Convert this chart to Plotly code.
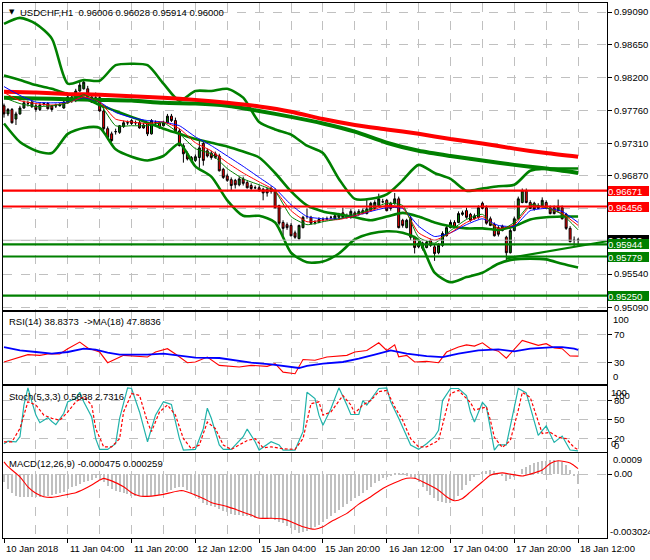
import plotly.graph_objects as go

FONT = "Liberation Sans, Arial, sans-serif"

# ---------------- data ----------------
bars = list(range(145))
time_label_bars = [0, 16, 32, 48, 64, 80, 96, 112, 128, 144]
time_labels = ["10 Jan 2018", "11 Jan 04:00", "11 Jan 20:00", "12 Jan 12:00", "15 Jan 04:00",
               "15 Jan 20:00", "16 Jan 12:00", "17 Jan 04:00", "17 Jan 20:00", "18 Jan 12:00"]

open_ = [0.9782, 0.9771, 0.9777, 0.9764, 0.9771, 0.9779, 0.9785, 0.9781, 0.9782, 0.9777,
         0.9785, 0.9785, 0.9782, 0.9782, 0.9782, 0.9779, 0.9786, 0.9794, 0.9789, 0.9802,
         0.9805, 0.9805, 0.9794, 0.9789, 0.9793, 0.9775, 0.9751, 0.9744, 0.9747, 0.9746,
         0.9754, 0.9759, 0.9762, 0.9759, 0.9759, 0.9756, 0.9758, 0.9744, 0.9759, 0.9759,
         0.9755, 0.9759, 0.9768, 0.9762, 0.9748, 0.9728, 0.9717, 0.9712, 0.9708, 0.9712,
         0.9731, 0.9721, 0.9718, 0.9717, 0.9714, 0.9696, 0.9687, 0.9682, 0.9681, 0.9675,
         0.9683, 0.9678, 0.9674, 0.9671, 0.9671, 0.9669, 0.9669, 0.9666, 0.9667, 0.9647,
         0.9624, 0.9621, 0.9620, 0.9610, 0.9602, 0.9617, 0.9632, 0.9631, 0.9624, 0.9624,
         0.9628, 0.9629, 0.9631, 0.9629, 0.9631, 0.9637, 0.9631, 0.9631, 0.9637, 0.9635,
         0.9636, 0.9636, 0.9640, 0.9643, 0.9647, 0.9652, 0.9654, 0.9650, 0.9650, 0.9656,
         0.9627, 0.9617, 0.9629, 0.9604, 0.9591, 0.9596, 0.9590, 0.9600, 0.9591, 0.9583,
         0.9593, 0.9606, 0.9617, 0.9624, 0.9624, 0.9635, 0.9640, 0.9635, 0.9629, 0.9631,
         0.9650, 0.9644, 0.9629, 0.9621, 0.9617, 0.9613, 0.9604, 0.9583, 0.9613, 0.9629,
         0.9651, 0.9667, 0.9651, 0.9650, 0.9647, 0.9646, 0.9651, 0.9644, 0.9644, 0.9640,
         0.9644, 0.9635, 0.9616, 0.9600, 0.96006]
high = [0.9785, 0.9779, 0.9779, 0.9774, 0.9782, 0.9789, 0.9789, 0.9793, 0.9785, 0.9786,
        0.9787, 0.9787, 0.9783, 0.9785, 0.9786, 0.9789, 0.9797, 0.9797, 0.9805, 0.9816,
        0.9817, 0.9809, 0.9797, 0.9800, 0.9796, 0.9778, 0.9754, 0.9747, 0.9751, 0.9756,
        0.9762, 0.9762, 0.9764, 0.9762, 0.9762, 0.9759, 0.9760, 0.9764, 0.9762, 0.9760,
        0.9762, 0.9771, 0.9771, 0.9766, 0.9751, 0.9731, 0.9720, 0.9714, 0.9716, 0.9736,
        0.9733, 0.9724, 0.9721, 0.9720, 0.9717, 0.9698, 0.9690, 0.9685, 0.9683, 0.9686,
        0.9686, 0.9681, 0.9677, 0.9674, 0.9674, 0.9671, 0.9671, 0.9673, 0.9670, 0.9648,
        0.9627, 0.9624, 0.9623, 0.9613, 0.9621, 0.9633, 0.9643, 0.9633, 0.9627, 0.9631,
        0.9631, 0.9632, 0.9633, 0.9636, 0.9637, 0.9644, 0.9636, 0.9642, 0.9640, 0.9642,
        0.9643, 0.9655, 0.9652, 0.9654, 0.9663, 0.9656, 0.9656, 0.9652, 0.9664, 0.9659,
        0.9629, 0.9629, 0.9633, 0.9606, 0.9600, 0.9598, 0.9600, 0.9602, 0.9594, 0.9596,
        0.9612, 0.9620, 0.9627, 0.9627, 0.9639, 0.9640, 0.9644, 0.9637, 0.9636, 0.9647,
        0.9652, 0.9647, 0.9632, 0.9624, 0.9620, 0.9621, 0.9606, 0.9616, 0.9632, 0.9659,
        0.9670, 0.9670, 0.9654, 0.9652, 0.9650, 0.9658, 0.9654, 0.9647, 0.9647, 0.9655,
        0.9647, 0.9637, 0.9619, 0.9605, 0.96028]
low = [0.9766, 0.9768, 0.9758, 0.9756, 0.9770, 0.9778, 0.9781, 0.9779, 0.9774, 0.9775,
       0.9782, 0.9777, 0.9774, 0.9779, 0.9781, 0.9778, 0.9785, 0.9786, 0.9787, 0.9801,
       0.9804, 0.9793, 0.9786, 0.9787, 0.9774, 0.9746, 0.9736, 0.9733, 0.9743, 0.9744,
       0.9752, 0.9756, 0.9756, 0.9756, 0.9751, 0.9751, 0.9741, 0.9743, 0.9756, 0.9751,
       0.9754, 0.9758, 0.9760, 0.9747, 0.9727, 0.9705, 0.9708, 0.9705, 0.9706, 0.9698,
       0.9701, 0.9712, 0.9709, 0.9710, 0.9693, 0.9683, 0.9679, 0.9667, 0.9670, 0.9673,
       0.9674, 0.9670, 0.9667, 0.9669, 0.9666, 0.9654, 0.9659, 0.9663, 0.9643, 0.9620,
       0.9606, 0.9614, 0.9605, 0.9602, 0.9601, 0.9616, 0.9629, 0.9621, 0.9621, 0.9623,
       0.9625, 0.9627, 0.9628, 0.9628, 0.9629, 0.9629, 0.9629, 0.9629, 0.9632, 0.9633,
       0.9635, 0.9635, 0.9639, 0.9642, 0.9646, 0.9650, 0.9639, 0.9640, 0.9648, 0.9616,
       0.9617, 0.9616, 0.9600, 0.9582, 0.9589, 0.9586, 0.9589, 0.9591, 0.9572, 0.9581,
       0.9591, 0.9605, 0.9616, 0.9616, 0.9623, 0.9633, 0.9629, 0.9625, 0.9628, 0.9629,
       0.9642, 0.9621, 0.9619, 0.9605, 0.9605, 0.9612, 0.9572, 0.9582, 0.9612, 0.9628,
       0.9650, 0.9650, 0.9642, 0.9640, 0.9642, 0.9644, 0.9643, 0.9635, 0.9635, 0.9639,
       0.9628, 0.9614, 0.9597, 0.9591, 0.95914]
close = [0.9771, 0.9777, 0.9759, 0.9771, 0.9779, 0.9786, 0.9785, 0.9787, 0.9777, 0.9783,
         0.9785, 0.9778, 0.9777, 0.9782, 0.9783, 0.9787, 0.9794, 0.9789, 0.9802, 0.9810,
         0.9814, 0.9794, 0.9787, 0.9793, 0.9775, 0.9751, 0.9739, 0.9735, 0.9747, 0.9755,
         0.9759, 0.9759, 0.9758, 0.9759, 0.9752, 0.9752, 0.9744, 0.9762, 0.9759, 0.9752,
         0.9759, 0.9768, 0.9762, 0.9748, 0.9728, 0.9717, 0.9710, 0.9708, 0.9713, 0.9725,
         0.9708, 0.9714, 0.9712, 0.9712, 0.9694, 0.9685, 0.9681, 0.9674, 0.9675, 0.9683,
         0.9677, 0.9671, 0.9670, 0.9671, 0.9667, 0.9664, 0.9664, 0.9670, 0.9644, 0.9623,
         0.9616, 0.9617, 0.9606, 0.9604, 0.9620, 0.9631, 0.9632, 0.9623, 0.9624, 0.9628,
         0.9628, 0.9629, 0.9631, 0.9633, 0.9635, 0.9631, 0.9633, 0.9639, 0.9633, 0.9639,
         0.9640, 0.9642, 0.9650, 0.9651, 0.9656, 0.9652, 0.9640, 0.9643, 0.9656, 0.9617,
         0.9620, 0.9627, 0.9604, 0.9590, 0.9596, 0.9589, 0.9597, 0.9593, 0.9582, 0.9593,
         0.9609, 0.9617, 0.9624, 0.9617, 0.9636, 0.9637, 0.9631, 0.9627, 0.9633, 0.9644,
         0.9643, 0.9623, 0.9620, 0.9606, 0.9608, 0.9619, 0.9583, 0.9613, 0.9629, 0.9656,
         0.9667, 0.9651, 0.9643, 0.9642, 0.9643, 0.9654, 0.9644, 0.9636, 0.9636, 0.9646,
         0.9629, 0.9616, 0.9598, 0.9600, 0.96000]

# slow moving averages (sampled every 8 bars)
slow_ma_bars = list(range(0, 145, 8))
ma_red_slow = [0.9801, 0.9800, 0.9798, 0.9797, 0.9795, 0.9793, 0.9790, 0.9786, 0.9781, 0.9774,
               0.9764, 0.9756, 0.9750, 0.9744, 0.9737, 0.9731, 0.9724, 0.9718, 0.9713]
ma_green_slow = [0.9793, 0.9792, 0.9791, 0.9790, 0.9789, 0.9786, 0.9785, 0.9782, 0.9775, 0.9767,
                 0.9758, 0.9747, 0.9732, 0.9721, 0.9714, 0.9708, 0.9702, 0.9697, 0.9691]

# Bollinger bands and fast MAs (sampled every 4 bars)
band_bars = list(range(0, 145, 4))
bb_upper = [0.9893, 0.9901, 0.9893, 0.9873, 0.9812, 0.9817, 0.9816, 0.9837, 0.9839, 0.9837,
            0.9812, 0.9789, 0.9802, 0.9802, 0.9805, 0.9793, 0.9760, 0.9750, 0.9743, 0.9728,
            0.9718, 0.9683, 0.9656, 0.9656, 0.9662, 0.9681, 0.9702, 0.9691, 0.9683, 0.9667,
            0.9670, 0.9673, 0.9675, 0.9694, 0.9697, 0.9697, 0.9697]
bb_middle = [0.9823, 0.9817, 0.9810, 0.9805, 0.9798, 0.9793, 0.9783, 0.9775, 0.9767, 0.9759,
             0.9751, 0.9744, 0.9737, 0.9732, 0.9727, 0.9720, 0.9712, 0.9691, 0.9666, 0.9647,
             0.9639, 0.9635, 0.9631, 0.9627, 0.9632, 0.9637, 0.9632, 0.9624, 0.9619, 0.9616,
             0.9616, 0.9614, 0.9619, 0.9628, 0.9631, 0.9632, 0.9632]
bb_lower = [0.9758, 0.9733, 0.9721, 0.9718, 0.9744, 0.9752, 0.9752, 0.9723, 0.9713, 0.9708,
            0.9714, 0.9731, 0.9700, 0.9686, 0.9654, 0.9633, 0.9633, 0.9624, 0.9583, 0.9570,
            0.9571, 0.9582, 0.9601, 0.9609, 0.9612, 0.9610, 0.9600, 0.9556, 0.9543, 0.9550,
            0.9556, 0.9568, 0.9574, 0.9575, 0.9574, 0.9568, 0.9563]
ma_blue_fast = [0.9808, 0.9796, 0.9787, 0.9786, 0.9787, 0.9793, 0.9787, 0.9773, 0.9766, 0.9762,
                0.9760, 0.9755, 0.9740, 0.9728, 0.9714, 0.9700, 0.9685, 0.9670, 0.9648, 0.9632,
                0.9629, 0.9629, 0.9633, 0.9639, 0.9644, 0.9643, 0.9619, 0.9605, 0.9610, 0.9621,
                0.9629, 0.9620, 0.9619, 0.9640, 0.9643, 0.9639, 0.9624]
ma_red_fast = [0.9800, 0.9789, 0.9785, 0.9783, 0.9786, 0.9794, 0.9787, 0.9764, 0.9760, 0.9758,
               0.9760, 0.9751, 0.9732, 0.9721, 0.9705, 0.9691, 0.9679, 0.9667, 0.9640, 0.9625,
               0.9627, 0.9628, 0.9633, 0.9640, 0.9647, 0.9644, 0.9610, 0.9600, 0.9610, 0.9624,
               0.9632, 0.9616, 0.9621, 0.9646, 0.9644, 0.9636, 0.9620]
ma_green_fast = [0.9793, 0.9785, 0.9781, 0.9782, 0.9786, 0.9797, 0.9785, 0.9755, 0.9755, 0.9755,
                 0.9759, 0.9744, 0.9724, 0.9717, 0.9697, 0.9683, 0.9675, 0.9666, 0.9632, 0.9621,
                 0.9625, 0.9629, 0.9635, 0.9642, 0.9650, 0.9647, 0.9604, 0.9596, 0.9613, 0.9628,
                 0.9635, 0.9613, 0.9624, 0.9648, 0.9644, 0.9635, 0.9614]

# horizontal levels and trend line
level_prices = [0.96671, 0.96456, 0.95944, 0.95779, 0.95250]
level_colors = ["#FF0000", "#FF0000", "#008000", "#008000", "#008000"]
bid_price = 0.96000
trend_bars = [126, 151.25]
trend_prices = [0.95752, 0.95986]

price_ticks = [0.99090, 0.98650, 0.98200, 0.97760, 0.97310, 0.96870, 0.96430, 0.95990, 0.95540, 0.95090]

# RSI(14) and its MA(18)
rsi_bars = [0, 2, 6, 9, 11, 14, 16, 19, 21, 24, 26, 30, 34, 36, 38, 41, 43, 46, 48, 51,
            54, 59, 62, 66, 68, 70, 73, 75, 78, 81, 86, 88, 91, 93, 94, 96, 98, 99, 101, 103,
            106, 109, 111, 114, 116, 118, 120, 122, 124, 126, 128, 130, 134, 136, 138, 140, 142, 144]
rsi_vals = [30.5, 34, 41, 40, 42, 42, 49.5, 59, 50.5, 44.7, 29.5, 40, 39, 37.6, 44.7, 49.5, 42, 29.5, 30.5, 37.6,
            25.7, 23.3, 25.7, 24.3, 28, 16, 13.8, 34, 33, 37.6, 40, 44.7, 47, 55, 58, 47, 55, 38, 40, 30.5,
            31.4, 29.5, 44.7, 51.9, 55, 53.3, 58, 49.5, 46, 36, 49, 61.4, 54.3, 56.7, 50.5, 49.5, 39, 38.8373]
rsi_ma_bars = [0, 4, 8, 12, 16, 20, 23, 26, 29, 36, 40, 44, 48, 54, 58, 62, 67, 72, 74, 76,
               80, 85, 89, 93, 97, 101, 106, 110, 114, 119, 124, 128, 132, 138, 140, 143, 144]
rsi_ma_vals = [51.9, 47.1, 44.8, 42.4, 44.8, 49.5, 48.1, 43.8, 41, 41, 42.4, 40, 36.7, 36.2, 33, 29.5, 27.1, 23.3, 21.9, 24.8,
               28.1, 30.5, 35.2, 41, 47.1, 42.4, 39, 37.6, 42.4, 47.1, 48.6, 45.7, 49.5, 51.9, 51.9, 49.5, 47.8836]

# Stochastic(5,3,3)
stoch_bars = [0, 1, 3, 4, 5, 6, 7, 8, 9, 10, 11, 12, 13, 15, 16, 18, 19, 20, 22, 23,
              24, 26, 28, 29, 31, 32, 34, 36, 38, 40, 42, 44, 45, 48, 50, 51, 52, 54, 55, 57,
              60, 61, 63, 64, 66, 67, 69, 70, 73, 75, 76, 78, 79, 80, 82, 84, 86, 87, 89, 90,
              91, 93, 94, 96, 97, 99, 101, 102, 104, 106, 108, 109, 110, 112, 114, 116, 117, 118, 120, 121,
              123, 124, 126, 129, 131, 134, 136, 138, 140, 142, 144]
stoch_main = [12, 16, 15, 23, 73, 100, 78, 57, 45, 49, 53, 47, 42, 60, 78, 83, 93, 78, 54, 20,
              3, 3, 12, 52, 100, 99, 62, 15, 57, 78, 74, 20, 2, 3, 36, 68, 52, 10, 3, 3,
              23, 35, 15, 2, 10, 15, 10, 2, 2, 31, 93, 83, 57, 41, 67, 100, 73, 58, 58, 80,
              73, 91, 99, 100, 78, 52, 25, 10, 3, 12, 23, 33, 80, 99, 99, 88, 62, 46, 77, 70,
              2, 10, 10, 99, 92, 25, 40, 14, 24, 2, 0.5838]
stoch_sig_bars = [0, 2, 4, 6, 8, 10, 12, 14, 16, 18, 20, 22, 23, 25, 27, 29, 30, 32, 34, 36,
                  37, 39, 41, 43, 45, 47, 49, 51, 53, 55, 57, 61, 63, 65, 67, 70, 73, 75, 77, 79,
                  80, 82, 85, 87, 88, 90, 92, 94, 96, 98, 100, 102, 104, 106, 109, 111, 112, 114, 117, 118,
                  121, 122, 123, 125, 127, 129, 130, 132, 134, 135, 137, 139, 141, 143, 144]
stoch_signal = [15, 15, 36, 78, 73, 57, 52, 49, 62, 78, 86, 73, 36, 7, 7, 20, 62, 91, 88, 46,
                31, 62, 73, 57, 20, 4, 10, 46, 36, 10, 3, 17, 20, 5.5, 7, 4, 3, 20, 75, 78,
                57, 62, 88, 73, 60, 73, 80, 94, 96, 70, 49, 20, 7, 7, 17, 65, 91, 96, 77, 65,
                70, 49, 22, 6, 17, 65, 93, 85, 49, 28, 30, 22, 20, 6, 2.7316]

# MACD(12,26,9)
macd_main = [-0.00040, -0.00070, -0.00092, -0.00104, -0.00108, -0.00110, -0.00110, -0.00110, -0.00109, -0.00108,
             -0.00106, -0.00103, -0.00100, -0.00097, -0.00090, -0.00083, -0.00072, -0.00060, -0.00055, -0.00048,
             -0.00036, -0.00031, -0.00027, -0.00021, -0.00024, -0.00040, -0.00056, -0.00070, -0.00080, -0.00087,
             -0.00092, -0.00097, -0.00102, -0.00105, -0.00106, -0.00107, -0.00107, -0.00106, -0.00102, -0.00098,
             -0.00091, -0.00084, -0.00076, -0.00068, -0.00062, -0.00063, -0.00075, -0.00090, -0.00104, -0.00120,
             -0.00136, -0.00145, -0.00152, -0.00158, -0.00166, -0.00174, -0.00182, -0.00188, -0.00192, -0.00196,
             -0.00198, -0.00200, -0.00203, -0.00207, -0.00209, -0.00209, -0.00209, -0.00213, -0.00217, -0.00225,
             -0.00233, -0.00244, -0.00255, -0.00266, -0.00278, -0.00276, -0.00272, -0.00261, -0.00252, -0.00240,
             -0.00228, -0.00214, -0.00200, -0.00186, -0.00170, -0.00158, -0.00143, -0.00128, -0.00116, -0.00104,
             -0.00090, -0.00075, -0.00060, -0.00044, -0.00032, -0.00020, -0.00014, -0.00010, -0.00007, -0.00005,
             -0.00006, -0.00009, -0.00016, -0.00024, -0.00040, -0.00063, -0.00082, -0.00099, -0.00114, -0.00126,
             -0.00133, -0.00137, -0.00138, -0.00125, -0.00103, -0.00078, -0.00052, -0.00032, -0.00013, 0.00000,
             0.00011, 0.00016, 0.00019, 0.00012, 0.00004, -0.00010, -0.00032, -0.00026, -0.00015, 0.00000,
             0.00022, 0.00035, 0.00044, 0.00050, 0.00056, 0.00059, 0.00063, 0.00066, 0.00065, 0.00062,
             0.00055, 0.00043, 0.00020, -0.00012, -0.000475]
macd_sig_bars = [0, 1, 4, 6, 8, 10, 12, 14, 16, 18, 20, 22, 24, 25, 27, 30, 32, 34, 37, 40,
                 42, 44, 45, 48, 50, 52, 56, 59, 62, 64, 67, 70, 72, 75, 78, 80, 82, 86, 89, 92,
                 95, 98, 101, 103, 105, 109, 111, 113, 115, 117, 120, 122, 125, 127, 130, 132, 135, 137, 139, 142, 144]
macd_signal = [0.00058, 0.00035, -0.00013, -0.0006, -0.00091, -0.00107, -0.0011, -0.00104, -0.00096, -0.00088,
               -0.00072, -0.00052, -0.00028, -0.0002, -0.00032, -0.0006, -0.00088, -0.00104, -0.00104, -0.00096,
               -0.00087, -0.00079, -0.00079, -0.00099, -0.00115, -0.00134, -0.00154, -0.00173, -0.00194, -0.00209,
               -0.00209, -0.00213, -0.00225, -0.00249, -0.00261, -0.00249, -0.00225, -0.00186, -0.00142, -0.00107,
               -0.00068, -0.00041, -0.0002, -0.0002, -0.00036, -0.00076, -0.00107, -0.00126, -0.00115, -0.00084,
               -0.00036, -0.00005, 0.00006, 0.0, -0.00009, 0.0, 0.00019, 0.0005, 0.00063, 0.00053, 0.000259]
macd_max, macd_min = 0.000992, -0.003024

# ---------------- figure ----------------
fig = go.Figure()

fig.add_trace(go.Candlestick(
    x=bars, open=open_, high=high, low=low, close=close,
    increasing=dict(fillcolor="#008000", line=dict(color="black", width=1)),
    decreasing=dict(fillcolor="#FF0000", line=dict(color="black", width=1)),
    whiskerwidth=0, hoverinfo="skip", xaxis="x", yaxis="y"))

sp = dict(shape="spline", smoothing=0.7)
for vals in (bb_upper, bb_middle, bb_lower):
    fig.add_trace(go.Scatter(x=band_bars, y=vals, mode="lines",
                             line=dict(color="#008000", width=2.6, **sp), xaxis="x", yaxis="y"))
fig.add_trace(go.Scatter(x=slow_ma_bars, y=ma_green_slow, mode="lines",
                         line=dict(color="#008000", width=4, **sp), xaxis="x", yaxis="y"))
fig.add_trace(go.Scatter(x=slow_ma_bars, y=ma_red_slow, mode="lines",
                         line=dict(color="#FF0000", width=4, **sp), xaxis="x", yaxis="y"))
for vals, col in ((ma_blue_fast, "#0000FF"), (ma_red_fast, "#FF0000"), (ma_green_fast, "#008000")):
    fig.add_trace(go.Scatter(x=band_bars, y=vals, mode="lines",
                             line=dict(color=col, width=1, shape="spline", smoothing=0.5),
                             xaxis="x", yaxis="y"))
fig.add_trace(go.Scatter(x=trend_bars, y=trend_prices, mode="lines",
                         line=dict(color="#008000", width=2.2), xaxis="x", yaxis="y"))

# RSI
fig.add_trace(go.Scatter(x=rsi_bars, y=rsi_vals, mode="lines",
                         line=dict(color="#FF0000", width=1.1), xaxis="x2", yaxis="y2"))
fig.add_trace(go.Scatter(x=rsi_ma_bars, y=rsi_ma_vals, mode="lines",
                         line=dict(color="#0000FF", width=1.8), xaxis="x2", yaxis="y2"))
# Stochastic
fig.add_trace(go.Scatter(x=stoch_bars, y=stoch_main, mode="lines",
                         line=dict(color="#20B2AA", width=1.2), xaxis="x3", yaxis="y3"))
fig.add_trace(go.Scatter(x=stoch_sig_bars, y=stoch_signal, mode="lines",
                         line=dict(color="#FF0000", width=1.2, dash="3px,2px"), xaxis="x3", yaxis="y3"))
# MACD
fig.add_trace(go.Bar(x=bars, y=macd_main, width=0.3, marker=dict(color="#C0C0C0", line=dict(width=0)),
                     xaxis="x4", yaxis="y4"))
fig.add_trace(go.Scatter(x=macd_sig_bars, y=macd_signal, mode="lines",
                         line=dict(color="#FF0000", width=1.1, shape="spline", smoothing=0.6),
                         xaxis="x4", yaxis="y4"))

GRID = "#C0C0C0"
tickfont = dict(family=FONT, size=9.5, color="black")
minor_bars = [b for b in range(8, 145, 16)]
xcommon = dict(range=[-0.25, 151.25], showline=True, linecolor="black", linewidth=1, mirror=True,
               tickvals=time_label_bars, showticklabels=False, ticks="",
               showgrid=True, gridcolor=GRID, griddash="dash", gridwidth=1, zeroline=False,
               minor=dict(tickvals=minor_bars, showgrid=True, gridcolor=GRID, griddash="dash",
                          gridwidth=1, ticks=""),
               fixedrange=True)
ycommon = dict(side="right", showline=True, linecolor="black", linewidth=1, mirror=True,
               ticks="outside", ticklen=4, tickcolor="black", tickfont=tickfont,
               showgrid=True, gridcolor=GRID, griddash="dash", gridwidth=1, zeroline=False,
               fixedrange=True)

xbottom = dict(xcommon)
xbottom.update(ticks="outside", ticklen=4, tickcolor="black")

fig.update_layout(
    width=650, height=560, autosize=False,
    margin=dict(l=2, r=42, t=2, b=22, pad=0),
    paper_bgcolor="white", plot_bgcolor="white",
    showlegend=False, hovermode=False, bargap=0,
    font=dict(family=FONT, size=9.5, color="black"),
    xaxis=dict(xcommon, anchor="y", rangeslider=dict(visible=False)),
    xaxis2=dict(xcommon, anchor="y2", matches="x"),
    xaxis3=dict(xcommon, anchor="y3", matches="x"),
    xaxis4=dict(xbottom, anchor="y4", matches="x"),
    yaxis=dict(ycommon, domain=[0.4254, 1.0], range=[0.95049, 0.99212], anchor="x",
               tickvals=price_ticks, ticktext=[f"{v:.5f}" for v in price_ticks]),
    yaxis2=dict(ycommon, domain=[0.2873, 0.4216], range=[-1.4, 101.4], anchor="x2",
                tickvals=[70, 30], ticktext=["70", "30"]),
    yaxis3=dict(ycommon, domain=[0.1604, 0.2836], range=[-1.4, 102.5], anchor="x3",
                tickvals=[80, 50, 20], ticktext=["80", "50", "20"]),
    yaxis4=dict(ycommon, domain=[0.0, 0.1586], range=[macd_min, macd_max], anchor="x4",
                tickvals=[0], ticktext=["0.00"]),
)

shapes = []
shapes.append(dict(type="line", xref="paper", x0=0, x1=1, yref="y", y0=bid_price, y1=bid_price,
                   line=dict(color="#C0C0C0", width=1)))
for p, c in zip(level_prices, level_colors):
    shapes.append(dict(type="line", xref="paper", x0=0, x1=1, yref="y", y0=p, y1=p,
                       line=dict(color=c, width=2.2)))
fig.update_layout(shapes=shapes)

ann = []
# header
ann.append(dict(text="▼", xref="paper", yref="paper", x=0, y=1, xanchor="left", yanchor="top",
                xshift=4, yshift=-3, showarrow=False, font=dict(family="DejaVu Sans", size=7, color="black")))
ann.append(dict(text="USDCHF,H1  0.96006 0.96028 0.95914 0.96000", xref="paper", yref="paper",
                x=0, y=1, xanchor="left", yanchor="top", xshift=15, yshift=-2, showarrow=False,
                font=tickfont))
# panel titles
ann.append(dict(text="RSI(14) 38.8373  ->MA(18) 47.8836", xref="paper", yref="paper", x=0, y=0.4216,
                xanchor="left", yanchor="top", xshift=4, yshift=-2, showarrow=False, font=tickfont))
ann.append(dict(text="Stoch(5,3,3) 0.5838 2.7316", xref="paper", yref="paper", x=0, y=0.2836,
                xanchor="left", yanchor="top", xshift=4, yshift=-3, showarrow=False, font=tickfont))
ann.append(dict(text="MACD(12,26,9) -0.000475 0.000259", xref="paper", yref="paper", x=0, y=0.1586,
                xanchor="left", yanchor="top", xshift=4, yshift=-3, showarrow=False, font=tickfont))
# right labels of sub panels
def rlab(text, yref, y, yanchor, xs=5, ys=0):
    return dict(text=text, xref="paper", x=1, xanchor="left", yref=yref, y=y, yanchor=yanchor,
                xshift=xs, yshift=ys, showarrow=False, font=tickfont, borderpad=0)
ann.append(rlab("100", "y2", 100, "top"))
ann.append(rlab("0", "y2", 0, "bottom"))
ann.append(rlab("100", "y3", 100, "top", 3, 2))
ann.append(rlab("100", "y3", 100, "top", 6, -1))
ann.append(rlab("0", "y3", 0, "bottom", 3, 1))
ann.append(rlab("0", "y3", 0, "bottom", 6, -1))
ann.append(rlab("0.0009", "y4", macd_max, "top"))
ann.append(rlab(f"{macd_min:.6f}", "y4", macd_min, "bottom", 2))
# price boxes
def pbox(p, col):
    return dict(text=f"{p:.5f}", xref="paper", x=1, xanchor="left", yref="y", y=p, yanchor="middle",
                xshift=1, showarrow=False, bgcolor=col, borderwidth=0, borderpad=0, width=41, height=10,
                align="left", font=dict(family=FONT, size=9.5, color="white"))
ann.append(pbox(bid_price, "black"))
for p, c in zip(level_prices, level_colors):
    ann.append(pbox(p, c))
# time labels
for b, t in zip(time_label_bars, time_labels):
    ann.append(dict(text=t, xref="x4", x=b, xanchor="left", yref="paper", y=0, yanchor="top",
                    yshift=-3, showarrow=False, font=tickfont))
fig.update_layout(annotations=ann)

fig.write_html("out.html", config={"displayModeBar": False},
               post_script="document.body.style.margin='0px';document.body.style.overflow='hidden';")
